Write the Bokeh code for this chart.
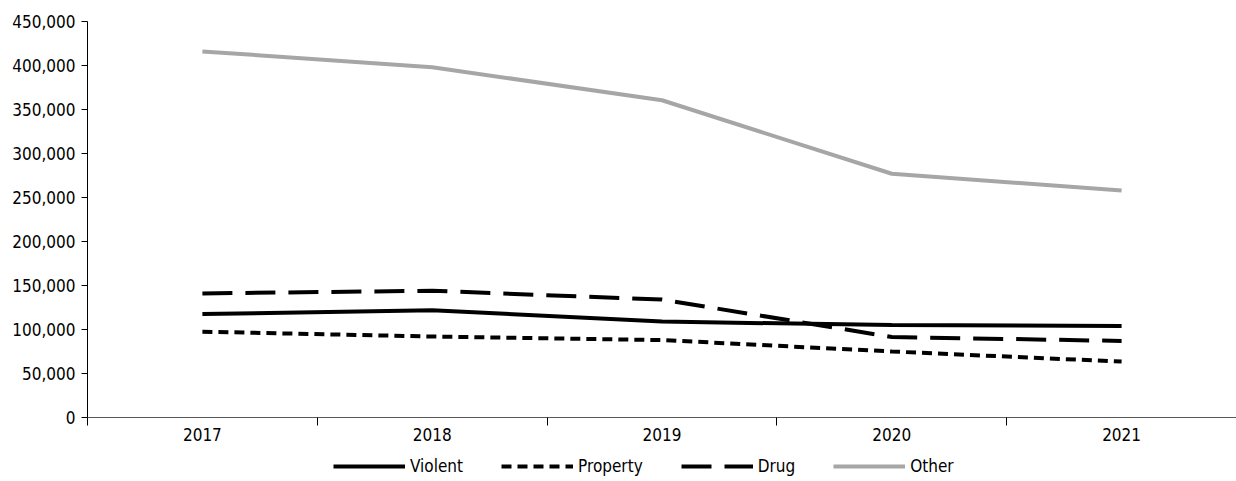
from bokeh.plotting import figure
from bokeh.layouts import column
from bokeh.models import Range1d, FixedTicker, NumeralTickFormatter, Legend, LegendItem
from bokeh.embed import file_html
from bokeh.resources import INLINE

years = ["2017", "2018", "2019", "2020", "2021"]
violent = [117500, 122000, 109000, 105000, 104000]
property_ = [97500, 92000, 88000, 75000, 63500]
drug = [141000, 144000, 134000, 91500, 87000]
other = [416000, 398000, 360500, 277000, 258000]
y_ticks = [0, 50000, 100000, 150000, 200000, 250000, 300000, 350000, 400000, 450000]
series_names = ["Violent", "Property", "Drug", "Other"]

FONT = "DejaVu Sans Condensed"
FS = "17px"

styles = [dict(line_color="black", line_width=4),
          dict(line_color="black", line_width=4, line_dash="10 6"),
          dict(line_color="black", line_width=4, line_dash="30 13"),
          dict(line_color="#A6A6A6", line_width=4)]

xs = [i + 0.5 for i in range(len(years))]
series = [violent, property_, drug, other]

p = figure(frame_width=1149, frame_height=396,
           output_backend="svg", toolbar_location=None,
           x_range=Range1d(0, len(years)), y_range=Range1d(0, 450000),
           min_border_left=87, min_border_right=0, min_border_top=21,
           min_border_bottom=36)
p.outline_line_color = None
p.grid.visible = False

for vals, st in zip(series, styles):
    p.line(xs, vals, **st)

xa = p.xaxis[0]
xa.ticker = FixedTicker(ticks=xs, minor_ticks=[0, 1, 2, 3, 4, 5])
xa.major_label_overrides = {x: y for x, y in zip(xs, years)}
xa.major_tick_out = 0
xa.major_tick_in = 0
xa.minor_tick_out = 8
xa.minor_tick_in = 0
xa.minor_tick_line_color = "black"
xa.axis_line_color = "#595959"
xa.major_label_standoff = 2
xa.major_label_text_font = FONT
xa.major_label_text_font_size = FS
xa.major_label_text_color = "black"

ya = p.yaxis[0]
ya.ticker = FixedTicker(ticks=y_ticks)
ya.formatter = NumeralTickFormatter(format="0,0")
ya.major_tick_out = 6
ya.major_tick_in = 0
ya.minor_tick_out = 0
ya.minor_tick_in = 0
ya.axis_line_color = "black"
ya.major_label_standoff = 6
ya.major_label_text_font = FONT
ya.major_label_text_font_size = FS
ya.major_label_text_color = "black"

# legend strip below the chart (its lines lie outside its visible range)
p2 = figure(width=1236, height=28, output_backend="svg", toolbar_location=None,
            x_range=Range1d(-20, -10), y_range=Range1d(-20, -10),
            x_axis_location=None, y_axis_location=None, min_border=0)
p2.outline_line_color = None
p2.grid.visible = False
items = []
for name, vals, st in zip(series_names, series, styles):
    r = p2.line(xs, vals, **st)
    items.append(LegendItem(label=name, renderers=[r]))

legend = Legend(items=items, orientation="horizontal", location=(246, 5),
                border_line_color=None, background_fill_alpha=0,
                glyph_width=72, glyph_height=16, label_height=16,
                label_standoff=5, spacing=38,
                padding=0, margin=0,
                label_text_font=FONT, label_text_font_size=FS,
                label_text_color="black")
p2.add_layout(legend)

layout = column(p, p2, spacing=0)
open("out.html", "w").write(file_html(layout, INLINE))
